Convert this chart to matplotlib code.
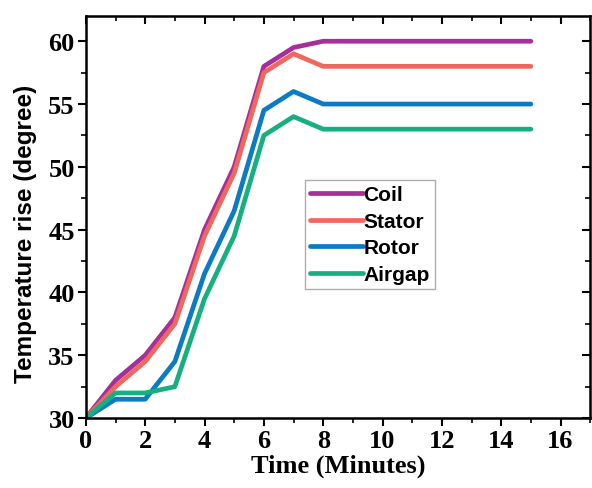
import matplotlib
matplotlib.use('Agg')
import matplotlib.pyplot as plt
from matplotlib.ticker import MultipleLocator

# Data
time = [0, 1, 2, 3, 4, 5, 6, 7, 8, 15]
coil = [30, 33, 35, 38, 45, 50, 58, 59.5, 60, 60]
stator = [30, 32.5, 34.5, 37.5, 44.5, 49.5, 57.5, 59, 58, 58]
rotor = [30, 31.5, 31.5, 34.5, 41.5, 46.5, 54.5, 56, 55, 55]
airgap = [30, 32, 32, 32.5, 39.5, 44.5, 52.5, 54, 53, 53]

labels = ['Coil', 'Stator', 'Rotor', 'Airgap']
colors = ['#A5309A', '#F0675E', '#0B7BC4', '#17AE80']

serif = 'Liberation Serif'
sans = 'Liberation Sans'

fig = plt.figure(figsize=(5.92, 4.89), dpi=100)
ax = fig.add_axes([0.145, 0.143, 0.852, 0.822])

for ys, lab, c in zip([coil, stator, rotor, airgap], labels, colors):
    ax.plot(time, ys, color=c, lw=3.4, label=lab, solid_capstyle='round')

ax.set_xlim(0, 17)
ax.set_ylim(30, 62)
ax.xaxis.set_major_locator(MultipleLocator(2))
ax.xaxis.set_minor_locator(MultipleLocator(1))
ax.yaxis.set_major_locator(MultipleLocator(5))
ax.yaxis.set_minor_locator(MultipleLocator(2.5))

for s in ax.spines.values():
    s.set_linewidth(1.8)
ax.tick_params(which='major', direction='out', length=6, width=1.5, pad=2)
ax.tick_params(which='minor', direction='out', length=3.5, width=1.2)

for lab in ax.get_xticklabels() + ax.get_yticklabels():
    lab.set_fontfamily(serif)
    lab.set_fontweight('bold')
    lab.set_fontsize(19)

# inward ticks on top and right spines
top = ax.secondary_xaxis('top')
top.xaxis.set_major_locator(MultipleLocator(2))
top.xaxis.set_minor_locator(MultipleLocator(1))
top.tick_params(which='major', direction='in', length=6, width=1.5, labeltop=False)
top.tick_params(which='minor', direction='in', length=3.5, width=1.2)
right = ax.secondary_yaxis('right')
right.yaxis.set_major_locator(MultipleLocator(5))
right.yaxis.set_minor_locator(MultipleLocator(2.5))
right.tick_params(which='major', direction='in', length=6, width=1.5, labelright=False)
right.tick_params(which='minor', direction='in', length=3.5, width=1.2)

ax.set_xlabel('Time (Minutes)', fontfamily=serif, fontweight='bold', fontsize=19, labelpad=1)
ax.set_ylabel('Temperature rise (degree)', fontfamily=sans, fontweight='bold', fontsize=17.5)
ax.yaxis.set_label_coords(-0.096, 0.46)

leg = ax.legend(loc='upper left', bbox_to_anchor=(0.435, 0.592), frameon=True, fancybox=False,
                borderaxespad=0, handlelength=2.5, handletextpad=0.05, labelspacing=0.36,
                borderpad=0.25, prop={'family': sans, 'weight': 'bold', 'size': 15})
leg.get_frame().set_edgecolor('#999999')
leg.get_frame().set_linewidth(1.0)

fig.savefig('out.png', dpi=100)
